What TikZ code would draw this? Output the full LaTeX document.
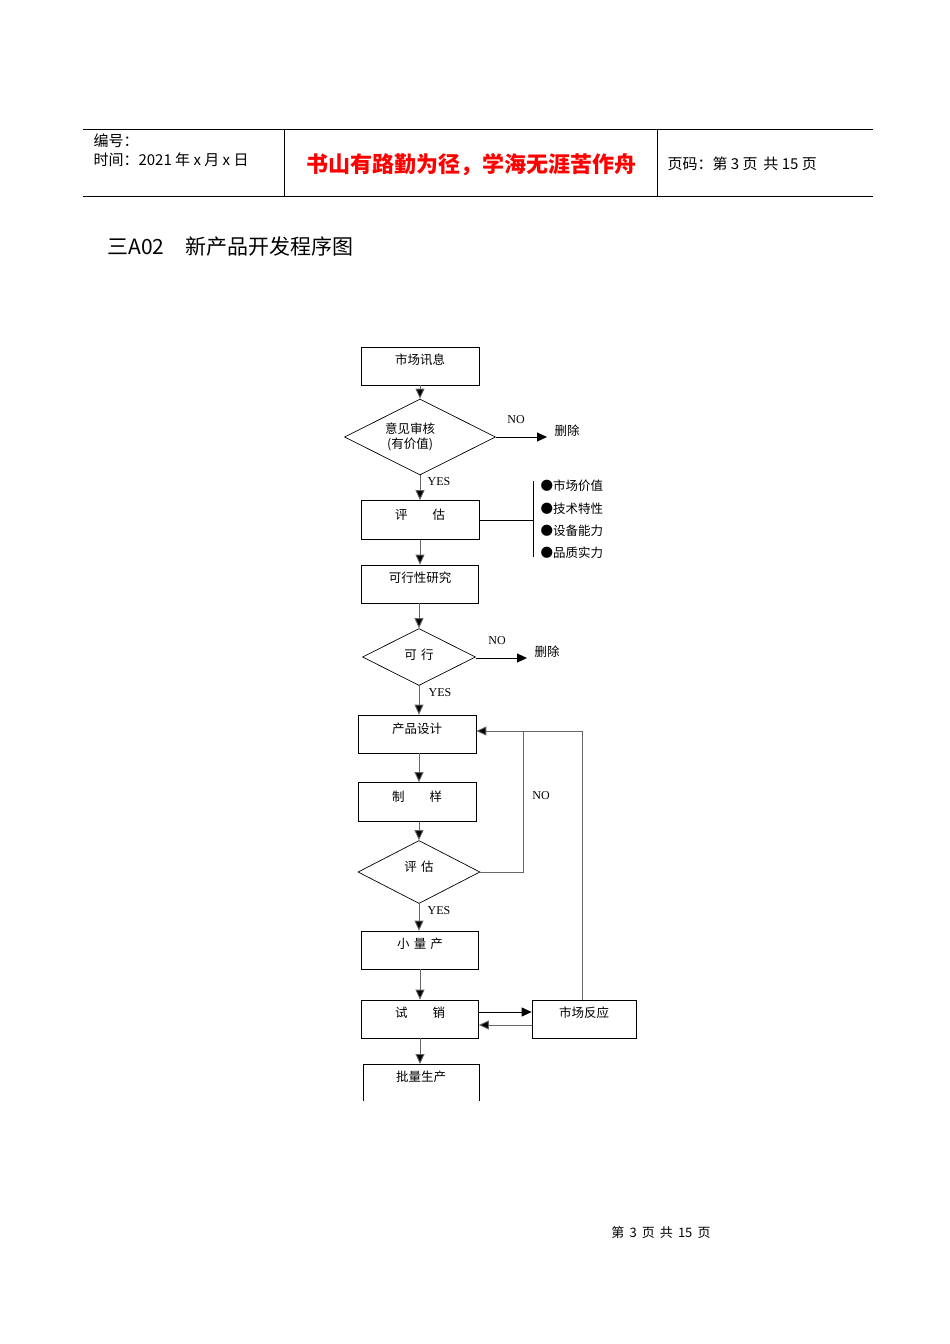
\documentclass[tikz,border=0pt]{standalone}
\usepackage{fontspec}
\setmainfont{Liberation Serif}
\newfontfamily\cjk{Noto Sans CJK SC}
\usetikzlibrary{arrows.meta,shapes.geometric}
\begin{document}
\begin{tikzpicture}[x=1pt,y=-1pt,
  box/.style={draw,line width=0.7pt,inner sep=0},
  arr/.style={draw=black!60,line width=0.9pt,-{Triangle[length=10pt,width=9pt,fill=black]}},
  ln/.style={draw=black!60,line width=0.8pt},
  lab/.style={font=\cjk\fontsize{12.5}{15}\selectfont},
  en/.style={font=\fontsize{12}{13}\selectfont}]
\useasboundingbox (0,0) rectangle (950,1344);
% header
\draw[line width=0.7pt] (83,129) -- (873,129) (83,196) -- (873,196) (284,129) -- (284,196) (657,129) -- (657,196);
\node[anchor=west,font=\cjk\fontsize{15}{17}\selectfont] (h1) at (90,141) {编号：};
\node[anchor=west,font=\cjk\fontsize{15}{17}\selectfont] (h2) at (90,160) {时间：2021 年 x 月 x 日};
\node[font=\cjk\bfseries\fontsize{22}{26}\selectfont,text=red] (h3) at (471,165) {书山有路勤为径，学海无涯苦作舟};
\node[anchor=west,font=\cjk\fontsize{15}{17}\selectfont] (h4) at (664,164) {页码：第 3 页\, 共 15 页};
\node[anchor=west,font=\cjk\fontsize{21}{25}\selectfont] (title) at (104,247) {三A02\hspace{1em}新产品开发程序图};
% boxes
\node[box,minimum width=118pt,minimum height=38pt] (b1) at (420,366) {};
\node[lab] at (420,360) {市场讯息};
\node[draw,line width=0.7pt,diamond,aspect=2,minimum width=151pt,minimum height=76pt,inner sep=0] (d1) at (420,437) {};
\node[lab,align=center] at (410,437) {意见审核\\(有价值)};
\node[box,minimum width=118pt,minimum height=39pt] (b2) at (420,520) {};
\node[lab] at (420,515) {评\hspace{2em}估};
\node[box,minimum width=117pt,minimum height=38pt] (b3) at (420,584) {};
\node[lab] at (420,578) {可行性研究};
\node[draw,line width=0.7pt,diamond,aspect=2,minimum width=113pt,minimum height=57pt,inner sep=0] (d2) at (419,657) {};
\node[lab] at (419,655) {可\,\,行};
\node[box,minimum width=118pt,minimum height=38pt] (b4) at (417,734) {};
\node[lab] at (417,729) {产品设计};
\node[box,minimum width=118pt,minimum height=39pt] (b5) at (417,802) {};
\node[lab] at (417,797) {制\hspace{2em}样};
\node[draw,line width=0.7pt,diamond,aspect=2,minimum width=122pt,minimum height=63pt,inner sep=0] (d3) at (419,872) {};
\node[lab] at (419,867) {评\,\,估};
\node[box,minimum width=117pt,minimum height=38pt] (b6) at (420,950) {};
\node[lab] at (420,944) {小\,\,量\,\,产};
\node[box,minimum width=117pt,minimum height=38pt] (b7) at (420,1019) {};
\node[lab] at (420,1013) {试\hspace{2em}销};
\node[box,minimum width=104pt,minimum height=38pt] (b8) at (584,1019) {};
\node[lab] at (584,1013) {市场反应};
\draw[line width=0.7pt] (363,1101) -- (363,1064) -- (479,1064) -- (479,1101);
\coordinate (b9) at (420,1064);
\node[lab] at (421,1077) {批量生产};
% main arrows
\draw[arr] (b1) -- (d1);
\draw[arr] (d1) -- (b2);
\draw[arr] (b2) -- (b3);
\draw[arr] (b3.south -| d2.north) -- (d2);
\draw[arr] (d2.south) -- (d2.south |- b4.north);
\draw[arr] (b4.south -| d2.south) -- (d2.south |- b5.north);
\draw[arr] (b5.south -| d3.north) -- (d3.north);
\draw[arr] (d3.south) -- (d3.south |- b6.north);
\draw[arr] (b6) -- (b7);
\draw[arr] (b7) -- (b9);
\node[en] at (439,482) {YES};
\node[en] at (440,693) {YES};
\node[en] at (439,911) {YES};
% NO branches
\coordinate (x1) at (547,437);
\draw[arr,draw=black] (d1.east) -- (x1);
\node[en] at (516,420) {NO};
\node[lab,anchor=west] at (551,431) {删除};
\coordinate (x2) at (527,658);
\draw[arr,draw=black] (d2.east |- x2) -- (x2);
\node[en] at (497,641) {NO};
\node[lab,anchor=west] at (531,652) {删除};
% bracket
\coordinate (br) at (533,520);
\draw[ln,draw=black] (b2.east) -- (br);
\draw[ln,draw=black] (533,481) -- (533,557);
\node[lab,anchor=west] at (537,486) {●市场价值};
\node[lab,anchor=west] at (537,509) {●技术特性};
\node[lab,anchor=west] at (537,531) {●设备能力};
\node[lab,anchor=west] at (537,553) {●品质实力};
% loops
\draw[arr] (d3.east) -- (523,872) -- (523,731) -- (b4.east |- 0,731);
\node[en] at (541,796) {NO};
\draw[ln] (582,1000) -- (582,731) -- (523,731);
\draw[arr,draw=black] (b7.east |- 0,1012) -- (b8.west |- 0,1012);
\draw[arr] (b8.west |- 0,1025) -- (b7.east |- 0,1025);
% footer
\node[font=\cjk\fontsize{13}{15}\selectfont] (ft) at (661,1233) {第\, 3\, 页\, 共\, 15\, 页};
\end{tikzpicture}
\end{document}
